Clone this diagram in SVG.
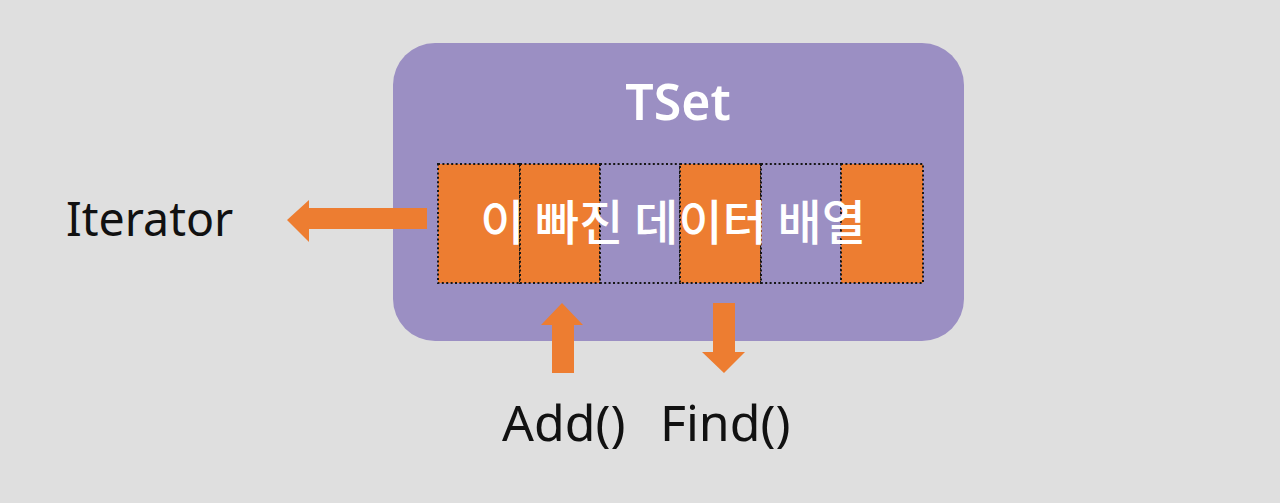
<svg xmlns="http://www.w3.org/2000/svg" width="1280" height="503" viewBox="0 0 1280 503">
<style>
.bg{fill:#dfdfdf}
.box{fill:#9b8fc3}
.on{fill:#ed7d31}
.off{fill:#9b8fc3}
.cell{stroke:#161616;stroke-width:2;stroke-dasharray:2 2.4}
.arrow{fill:#ed7d31}
.lbl{font-family:"Noto Sans","Open Sans","Liberation Sans",sans-serif;font-size:50px;fill:#111}
.title{font-family:"Noto Sans","Open Sans","Liberation Sans",sans-serif;font-size:50px;font-weight:600;fill:#fff;text-anchor:middle}
.kr{font-family:"Noto Sans CJK KR","Noto Sans",sans-serif;font-size:48px;font-weight:500;fill:#fff;text-anchor:middle}
</style>
<rect class="bg" x="0" y="0" width="1280" height="503"/>
<g id="tset">
<rect class="box" x="393" y="43" width="571" height="298" rx="42" ry="42"/>
<text class="title" x="678" y="120">TSet</text>
</g>
<g id="array">
<rect class="on cell" x="438" y="164" width="82" height="119"/>
<rect class="on cell" x="520" y="164" width="80" height="119"/>
<rect class="off cell" x="600" y="164" width="80" height="119"/>
<rect class="on cell" x="680" y="164" width="81" height="119"/>
<rect class="off cell" x="761" y="164" width="80" height="119"/>
<rect class="on cell" x="841" y="164" width="82" height="119"/>
<text class="kr" x="673" y="240">이 빠진 데이터 배열</text>
</g>
<g id="connectors">
<polygon class="arrow" points="427,208 309,208 309,200 287,220 309,242 309,229 427,229"/>
<polygon class="arrow" points="552,373 552,325 541,325 562,303 583,325 574,325 574,373"/>
<polygon class="arrow" points="713,303 735,303 735,352 745,352 724,373 702,352 713,352"/>
</g>
<g id="iterator"><text class="lbl" x="66" y="236" style="font-size:46.5px">Iterator</text></g>
<g id="add"><text class="lbl" x="502" y="441">Add()</text></g>
<g id="find"><text class="lbl" x="660" y="441">Find()</text></g>
</svg>
